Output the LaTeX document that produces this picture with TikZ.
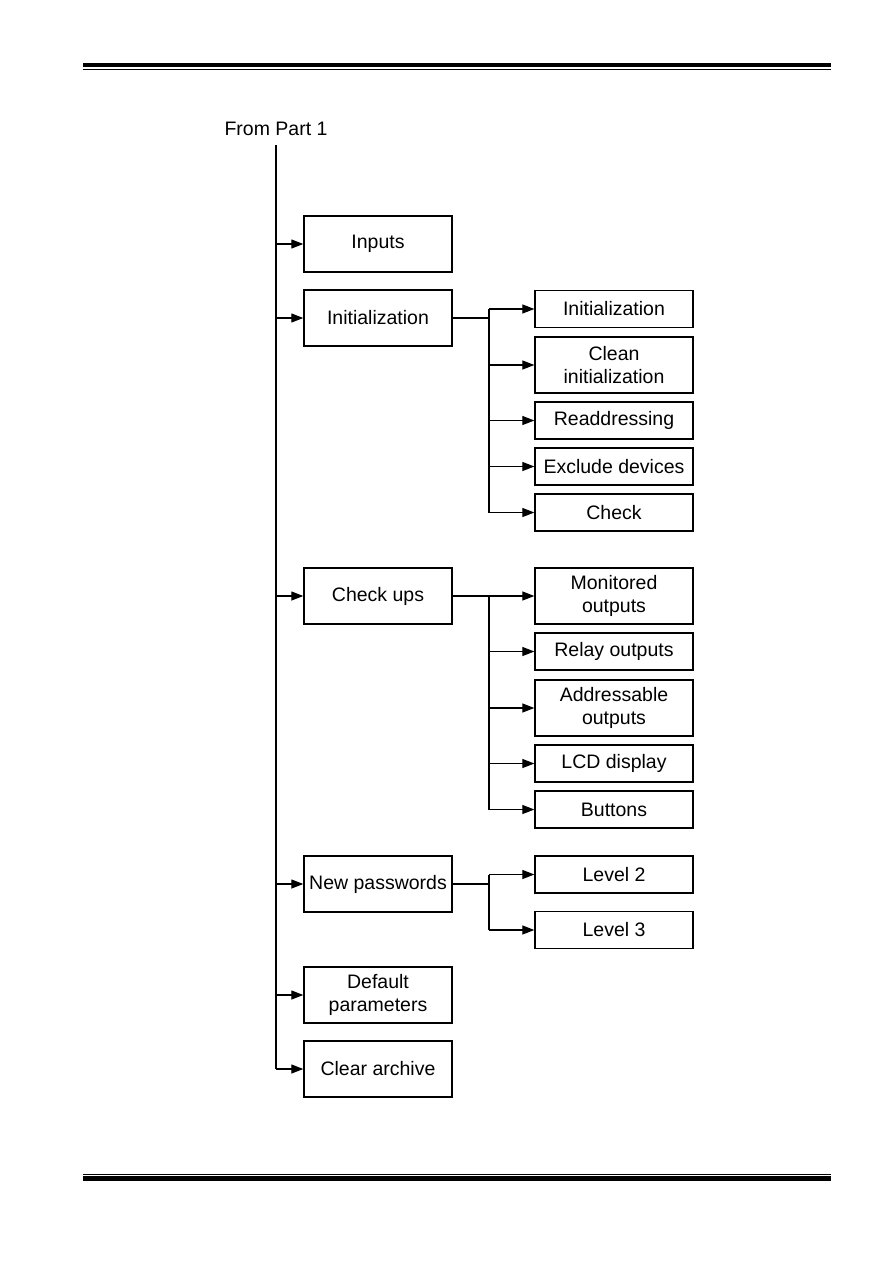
\documentclass[tikz,border=0pt]{standalone}
\usepackage{fontspec}
\setmainfont{Liberation Sans}
\usetikzlibrary{arrows.meta}

\begin{document}
\begin{tikzpicture}[x=0.6667pt,y=-0.6667pt,
  box/.style={draw,line width=0.9pt,minimum width=98.7pt,minimum height=37.3pt,align=center,inner sep=1pt,font=\fontsize{13}{15.5}\selectfont},
  sub/.style={box,minimum width=105.3pt},
  short/.style={minimum height=24.7pt},
  link/.style={line width=0.8pt},
  arr/.style={link,-{Triangle[length=8pt,width=6pt]}}]
  \useasboundingbox (0,0) rectangle (893,1263);
  % page rules
  \fill (83,62.5) rectangle (831,66.8);
  \fill (83,68.6) rectangle (831,69.8);
  \fill (83,1173.6) rectangle (831,1174.8);
  \fill (83,1176.2) rectangle (831,1180.8);
  % main column
  \node[font=\fontsize{13}{15.5}\selectfont] (start) at (276,129) {From Part 1};
  \coordinate (top) at (276,145);
  \coordinate (bot) at (276,1069);
  \draw[link] (top) -- (bot);
  \node[box] (inputs) at (378,244) {Inputs};
  \node[box] (init) at (378,318) {Initialization};
  \node[box] (checkups) at (378,596) {Check ups};
  \node[box] (newpw) at (378,884) {New passwords};
  \node[box] (defpar) at (378,995) {Default\\parameters};
  \node[box] (clear) at (378,1069) {Clear archive};
  \foreach \n in {inputs,init,checkups,newpw,defpar,clear}
    \draw[arr] (top |- \n.west) -- (\n.west);
  % initialization
  \node[sub,short] (i1) at (614,309) {Initialization};
  \node[sub] (i2) at (614,365) {Clean\\initialization};
  \node[sub,short] (i3) at (614,420.5) {Readdressing};
  \node[sub,short] (i4) at (614,466.5) {Exclude devices};
  \node[sub,short] (i5) at (614,512.5) {Check};
  \coordinate (ib) at (489,318);
  \draw[link] (init.east) -- (ib);
  \draw[link] (ib |- i1.west) -- (ib |- i5.west);
  \foreach \n in {i1,i2,i3,i4,i5}
    \draw[arr] (ib |- \n.west) -- (\n.west);
  % check ups
  \node[sub] (c1) at (614,596) {Monitored\\outputs};
  \node[sub,short] (c2) at (614,651.5) {Relay outputs};
  \node[sub] (c3) at (614,708) {Addressable\\outputs};
  \node[sub,short] (c4) at (614,763.5) {LCD display};
  \node[sub,short] (c5) at (614,809.5) {Buttons};
  \coordinate (cb) at (489,596);
  \draw[link] (checkups.east) -- (cb);
  \draw[link] (cb |- c1.west) -- (cb |- c5.west);
  \foreach \n in {c1,c2,c3,c4,c5}
    \draw[arr] (cb |- \n.west) -- (\n.west);
  % passwords
  \node[sub,short] (l2) at (614,874.5) {Level 2};
  \node[sub,short] (l3) at (614,930) {Level 3};
  \coordinate (pb) at (489,884);
  \draw[link] (newpw.east) -- (pb);
  \draw[link] (pb |- l2.west) -- (pb |- l3.west);
  \foreach \n in {l2,l3}
    \draw[arr] (pb |- \n.west) -- (\n.west);
\end{tikzpicture}
\end{document}
